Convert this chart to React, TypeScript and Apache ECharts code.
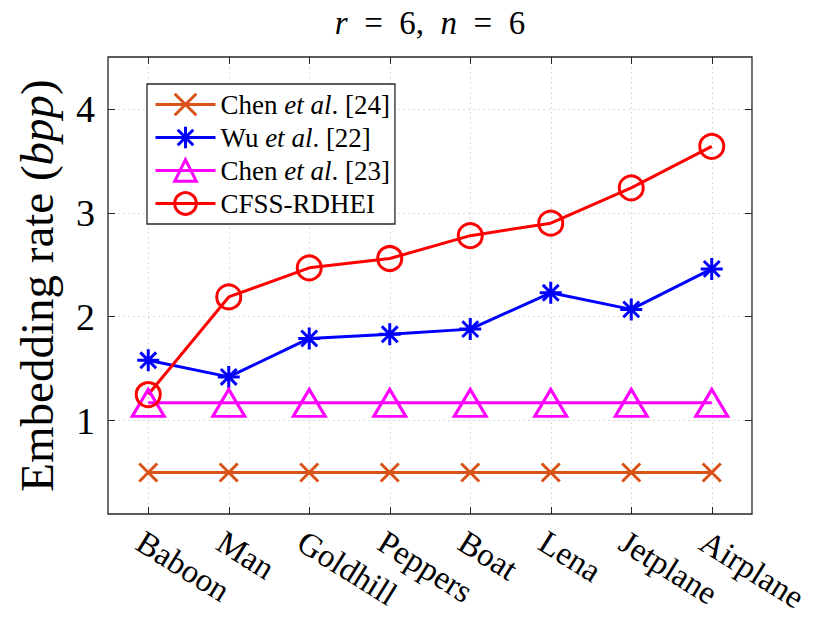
import React, { useEffect, useRef } from "react";
import * as echarts from "echarts";

const categories = ["Baboon", "Man", "Goldhill", "Peppers", "Boat", "Lena", "Jetplane", "Airplane"];
const chen24 = [0.5, 0.5, 0.5, 0.5, 0.5, 0.5, 0.5, 0.5];
const wu22 = [1.58, 1.42, 1.79, 1.83, 1.88, 2.23, 2.07, 2.46];
const chen23 = [1.17, 1.17, 1.17, 1.17, 1.17, 1.17, 1.17, 1.17];
const cfss = [1.25, 2.19, 2.47, 2.56, 2.78, 2.9, 3.24, 3.64];
const yTicks = [1, 2, 3, 4];
const xTicks = categories.map((_, i) => i);

const SERIF = "'Liberation Serif', 'DejaVu Serif', serif";
const xMarker = "path://M-1,-1L1,1M-1,1L1,-1";
const starMarker = "path://M0,-1L0,1M-1,0L1,0M-0.72,-0.72L0.72,0.72M-0.72,0.72L0.72,-0.72";

const toPairs = (arr: number[]) => arr.map((v, i) => [i, v]);

export default function App() {
  const ref = useRef<HTMLDivElement>(null);
  useEffect(() => {
    if (!ref.current) return;
    const chart = echarts.init(ref.current, null, { renderer: "svg" });
    const axisColor = "#262626";
    const legendRich = {
      n: { fontFamily: SERIF, fontSize: 27, color: "#000" },
      i: { fontFamily: SERIF, fontSize: 27, color: "#000", fontStyle: "italic" },
    };
    const mk = (name: string, data: number[], color: string, symbol: string, size: number | number[]) => ({
      name,
      type: "line",
      data: toPairs(data),
      symbol,
      symbolSize: size,
      color,
      lineStyle: { color, width: 3 },
      itemStyle: { color: "rgba(0,0,0,0)", borderColor: color, borderWidth: 3 },
      emphasis: { disabled: true },
      z: 3,
    });
    const sp = "\u00a0";
    chart.setOption({
      animation: false,
      backgroundColor: "#fff",
      graphic: [
        {
          type: "text",
          x: 430,
          y: 6,
          style: {
            text: `{i|r}{n|${sp}${sp}=${sp}${sp}6,${sp}${sp}}{i|n}{n|${sp}${sp}=${sp}${sp}6}`,
            textAlign: "center",
            rich: {
              n: { fontFamily: SERIF, fontSize: 33, fill: "#000" },
              i: { fontFamily: SERIF, fontSize: 33, fill: "#000", fontStyle: "italic" },
            },
          },
        },
      ],
      grid: {
        left: 108,
        right: 78,
        top: 57,
        bottom: 109,
        show: true,
        borderColor: axisColor,
        borderWidth: 1.3,
        backgroundColor: "#fff",
      },
      legend: {
        orient: "vertical",
        left: 147,
        top: 84,
        itemWidth: 60,
        itemHeight: 27,
        itemGap: 6,
        padding: [7, 5, 7, 7],
        borderColor: axisColor,
        borderWidth: 1.3,
        backgroundColor: "#fff",
        lineStyle: { width: 3 },
        itemStyle: { borderWidth: 3 },
        data: ["Chen et al. [24]", "Wu et al. [22]", "Chen et al. [23]", "CFSS-RDHEI"],
        formatter: (name: string) => {
          const m = name.match(/^(\S+) et al\. (\[\d+\])$/);
          if (m) return `{n|${m[1]} }{i|et al}{n|. ${m[2]}}`;
          return `{n|${name}}`;
        },
        textStyle: { rich: legendRich, padding: [0, 0, 0, 0] },
        z: 10,
      },
      xAxis: [
        {
          type: "value",
          min: -0.5,
          max: 7.5,
          axisLine: { show: false, onZero: false },
          axisTick: { show: true, inside: true, length: 7, customValues: xTicks, lineStyle: { color: axisColor } },
          axisLabel: {
            customValues: xTicks,
            formatter: (v: number) => categories[Math.round(v)] ?? "",
            rotate: -32,
            verticalAlign: "top",
            fontFamily: SERIF,
            fontSize: 33,
            color: "#000",
            margin: 11,
          },
          splitLine: { show: true, lineStyle: { color: "#dcdcdc", type: [2, 3], width: 1 } },
        },
        {
          type: "value",
          position: "top",
          min: -0.5,
          max: 7.5,
          axisLine: { show: false, onZero: false },
          axisTick: { show: true, inside: true, length: 7, customValues: xTicks, lineStyle: { color: axisColor } },
          axisLabel: { show: false },
          splitLine: { show: false },
        },
      ],
      yAxis: [
        {
          type: "value",
          min: 0.1,
          max: 4.5,
          name: "{n|Embedding rate (}{i|bpp}{n|)}",
          nameLocation: "middle",
          nameGap: 48,
          nameTextStyle: {
            rich: {
              n: { fontFamily: SERIF, fontSize: 47, color: "#000" },
              i: { fontFamily: SERIF, fontSize: 47, color: "#000", fontStyle: "italic" },
            },
          },
          axisLine: { show: false, onZero: false },
          axisTick: { show: true, inside: true, length: 7, customValues: yTicks, lineStyle: { color: axisColor } },
          axisLabel: { customValues: yTicks, fontFamily: SERIF, fontSize: 38, color: "#000", margin: 13 },
          splitLine: { show: true, lineStyle: { color: "#dcdcdc", type: [2, 3], width: 1 } },
        },
        {
          type: "value",
          position: "right",
          min: 0.1,
          max: 4.5,
          axisLine: { show: false, onZero: false },
          axisTick: { show: true, inside: true, length: 7, customValues: yTicks, lineStyle: { color: axisColor } },
          axisLabel: { show: false },
          splitLine: { show: false },
        },
      ],
      series: [
        mk("Chen et al. [24]", chen24, "#D95319", xMarker, 18),
        mk("Wu et al. [22]", wu22, "#0000FF", starMarker, 22),
        mk("Chen et al. [23]", chen23, "#FF00FF", "triangle", [32, 27]),
        mk("CFSS-RDHEI", cfss, "#FF0000", "circle", 24),
      ],
    });
    return () => chart.dispose();
  }, []);
  return <div ref={ref} style={{ width: 830, height: 623, position: "absolute", left: 0, top: 0 }} />;
}
